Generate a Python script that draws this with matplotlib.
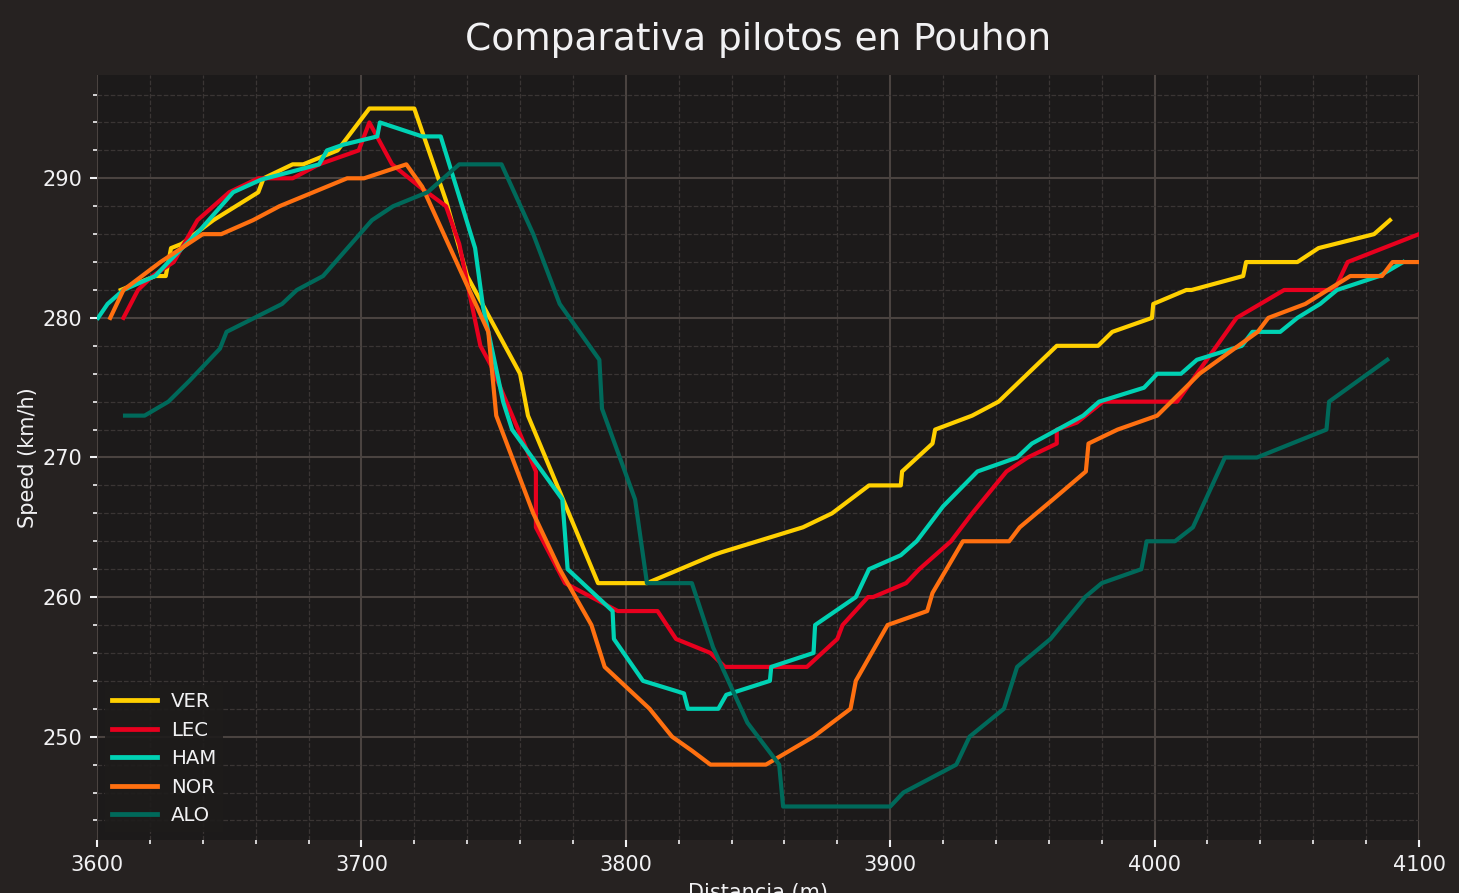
import matplotlib.pyplot as plt
from matplotlib.ticker import MultipleLocator

# distance (m) / speed (km/h)
ver_x = [3609, 3622, 3626, 3628, 3632, 3644, 3661, 3663, 3674, 3678, 3691, 3703, 3720, 3732, 3740,
         3760, 3763, 3789.5, 3808, 3833, 3836, 3867, 3878, 3892, 3904, 3904.5, 3916, 3917, 3931,
         3941, 3963, 3978.6, 3984, 3999, 3999.5, 4012, 4014, 4033.5, 4034.6, 4054, 4062, 4083, 4089]
ver_y = [282, 283, 283, 285, 285.3, 287, 289, 290, 291, 291, 292, 295, 295, 288.4, 283,
         276, 273, 261, 261, 263, 263.2, 265, 266, 268, 268, 269, 271, 272, 273,
         274, 278, 278, 279, 280, 281, 282, 282, 283, 284, 284, 285, 286, 287]

lec_x = [3610, 3615.5, 3621, 3629, 3638, 3650, 3661, 3674, 3684, 3699, 3703, 3711.6, 3722, 3732,
         3737, 3745, 3749, 3766, 3766, 3777, 3797, 3812, 3819, 3832, 3837.5, 3868.5, 3880, 3882,
         3891.6, 3893.5, 3906, 3911, 3923, 3931, 3944, 3952, 3963, 3963, 3970.6, 3980.5, 4008.5,
         4031, 4049, 4068, 4073, 4100]
lec_y = [280, 282, 283, 284, 287, 289, 290, 290, 291, 292, 294, 291, 289.4, 288,
         285.3, 278, 276.6, 269, 265, 261, 259, 259, 257, 256, 255, 255, 257, 258,
         260, 260, 261, 262, 264, 266, 269, 270, 271, 272, 272.5, 274, 274,
         280, 282, 282, 284, 286]

ham_x = [3600.4, 3604, 3610, 3622, 3627, 3639, 3651.5, 3662, 3684, 3687, 3693, 3706, 3707, 3723,
         3730, 3743, 3746, 3753.6, 3757, 3776, 3778, 3795, 3795.5, 3806.5, 3822, 3823.5, 3835,
         3838, 3854.5, 3855, 3871, 3871.6, 3887, 3892, 3904, 3910, 3920, 3933, 3948, 3953.6, 3973,
         3979, 3996, 4001, 4010, 4016, 4033, 4037, 4047.5, 4054, 4062.6, 4069, 4085, 4094]
ham_y = [280, 281, 282, 283, 284, 286.3, 289, 289.9, 291, 292, 292.4, 293, 294, 293,
         293, 285, 280.8, 274, 272, 267, 262, 259, 257, 254, 253.1, 252, 252,
         253, 254, 255, 256, 258, 260, 262, 263, 264, 266.5, 269, 270, 271, 273,
         274, 275, 276, 276, 277, 278, 279, 279, 280, 281, 282, 283, 284]

nor_x = [3605, 3610, 3624, 3640, 3647, 3659, 3669, 3694.6, 3701, 3717, 3723, 3748, 3751, 3765,
         3775, 3787, 3792, 3809, 3817.5, 3825, 3832, 3853, 3871, 3885, 3887, 3899, 3914, 3916,
         3927.5, 3945, 3949, 3961.6, 3974, 3975, 3986, 4001, 4017, 4039, 4043, 4057, 4074, 4086,
         4090, 4100]
nor_y = [280, 282, 284, 286, 286, 287, 288, 290, 290, 291, 289.4, 279, 273, 266,
         262, 258, 255, 252, 250, 249, 248, 248, 250, 252, 254, 258, 259, 260.3,
         264, 264, 265, 267, 269, 271, 272, 273, 276, 279, 280, 281, 283, 283,
         284, 284]

alo_x = [3610.6, 3618, 3627, 3635, 3646.5, 3649, 3670, 3675.6, 3685.5, 3704, 3712, 3725, 3737,
         3749, 3753, 3765, 3775, 3790, 3791, 3803.5, 3808, 3825, 3833, 3846, 3858, 3859.5, 3900,
         3905, 3925, 3930, 3943, 3948, 3960.6, 3973.7, 3980, 3995, 3997, 4007.7, 4014.5, 4026.6,
         4038.7, 4065, 4066, 4088]
alo_y = [273, 273, 274, 275.5, 277.8, 279, 281, 282, 283, 287, 288, 289, 291,
         291, 291, 286, 281, 277, 273.5, 267, 261, 261, 256.4, 251, 248, 245, 245,
         246, 248, 250, 252, 255, 257, 260, 261, 262, 264, 264, 265, 270,
         270, 272, 274, 277]

drivers = ["VER", "LEC", "HAM", "NOR", "ALO"]
colors = ["#ffd000", "#e8001e", "#00d2b4", "#ff7010", "#00695a"]
series = [(ver_x, ver_y), (lec_x, lec_y), (ham_x, ham_y), (nor_x, nor_y), (alo_x, alo_y)]

fig = plt.figure(figsize=(1460 / 150, 893 / 150), dpi=150, facecolor="#262221")
ax = fig.add_axes([97 / 1460, 1 - 840 / 893, (1419 - 97) / 1460, (840 - 75) / 893])
ax.set_facecolor("#1c1a1a")

for name, color, (xs, ys) in zip(drivers, colors, series):
    ax.plot(xs, ys, color=color, lw=2, label=name)

ax.set_xlim(3600, 4100)
ax.set_ylim(242.6, 297.4)
ax.xaxis.set_major_locator(MultipleLocator(100))
ax.xaxis.set_minor_locator(MultipleLocator(20))
ax.yaxis.set_major_locator(MultipleLocator(10))
ax.yaxis.set_minor_locator(MultipleLocator(2))

ax.grid(which="major", color="#4a4340", lw=1.0, ls="-")
ax.grid(which="minor", color="#3a3534", lw=0.6, ls="--")
ax.set_axisbelow(True)
for s in ax.spines.values():
    s.set_visible(False)

ax.tick_params(which="both", colors="#f1f1f3", labelsize=10)
ax.tick_params(which="major", length=3.5, width=1)
ax.tick_params(which="minor", length=2, width=0.8)

ax.set_xlabel("Distancia (m)", color="#f1f1f3", fontsize=10)
ax.set_ylabel("Speed (km/h)", color="#f1f1f3", fontsize=10, labelpad=2)
ax.set_title("Comparativa pilotos en Pouhon", color="#f1f1f3", fontsize=18, pad=12)

leg = ax.legend(loc="lower left", frameon=True, fancybox=False, fontsize=9.5,
                facecolor="#1e1c1b", edgecolor="none", framealpha=0.9,
                borderaxespad=0.4, borderpad=0.35, labelspacing=0.48,
                handlelength=2.3, handletextpad=0.7)
for t in leg.get_texts():
    t.set_color("#f1f1f3")
for h in leg.get_lines():
    h.set_linewidth(2.3)

fig.savefig("out.png", dpi=150, facecolor=fig.get_facecolor())
